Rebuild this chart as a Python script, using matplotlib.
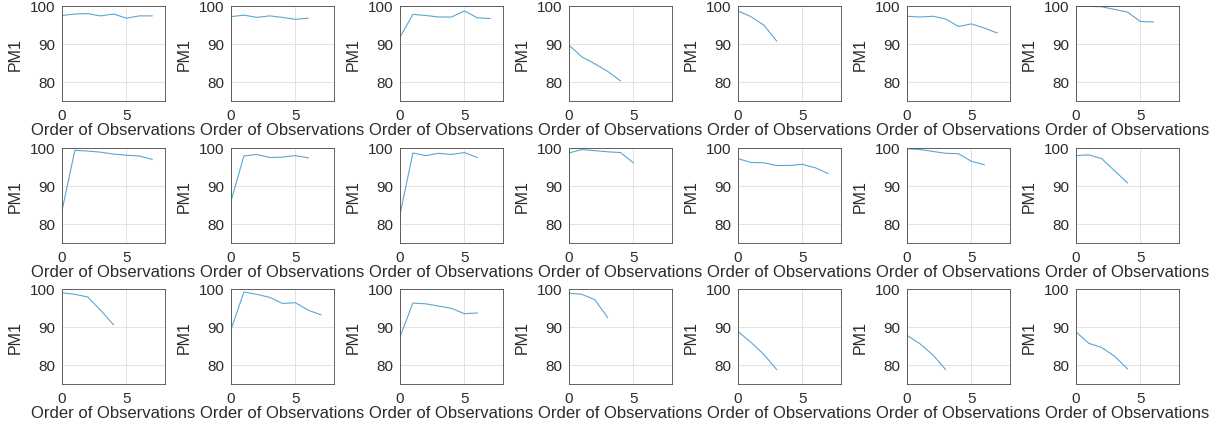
import matplotlib
matplotlib.use("Agg")
import matplotlib.pyplot as plt

plt.rcParams['font.family'] = ['Liberation Sans', 'DejaVu Sans']

# PM1 values per panel (row by row, left to right)
pm1_01 = [97.5, 97.9, 98.0, 97.4, 97.9, 96.8, 97.4, 97.4]
pm1_02 = [97.2, 97.6, 97.0, 97.4, 97.0, 96.5, 96.8]
pm1_03 = [91.8, 97.8, 97.5, 97.1, 97.1, 98.7, 96.9, 96.7]
pm1_04 = [89.7, 86.6, 84.8, 82.8, 80.3]
pm1_05 = [98.7, 97.2, 95.0, 90.8]
pm1_06 = [97.3, 97.1, 97.3, 96.6, 94.6, 95.3, 94.2, 92.9]
pm1_07 = [100.0, 99.9, 99.8, 99.1, 98.4, 95.9, 95.8]

pm1_08 = [83.5, 99.4, 99.2, 98.9, 98.4, 98.1, 97.9, 97.0]
pm1_09 = [86.0, 97.9, 98.3, 97.5, 97.6, 98.0, 97.4]
pm1_10 = [82.5, 98.7, 98.0, 98.6, 98.3, 98.8, 97.5]
pm1_11 = [98.7, 99.6, 99.3, 99.0, 98.8, 96.1]
pm1_12 = [97.2, 96.2, 96.1, 95.4, 95.4, 95.7, 94.8, 93.3]
pm1_13 = [99.8, 99.6, 99.1, 98.6, 98.5, 96.5, 95.6]
pm1_14 = [98.0, 98.2, 97.2, 94.0, 90.8]

pm1_15 = [99.0, 98.6, 97.9, 94.4, 90.6]
pm1_16 = [89.3, 99.2, 98.6, 97.8, 96.2, 96.4, 94.4, 93.2]
pm1_17 = [87.4, 96.3, 96.1, 95.5, 94.9, 93.5, 93.7]
pm1_18 = [98.9, 98.6, 97.2, 92.5]
pm1_19 = [88.8, 86.0, 82.8, 78.8]
pm1_20 = [87.8, 85.6, 82.7, 78.8]
pm1_21 = [88.7, 85.7, 84.6, 82.3, 79.0]

panels = [pm1_01, pm1_02, pm1_03, pm1_04, pm1_05, pm1_06, pm1_07,
          pm1_08, pm1_09, pm1_10, pm1_11, pm1_12, pm1_13, pm1_14,
          pm1_15, pm1_16, pm1_17, pm1_18, pm1_19, pm1_20, pm1_21]

x_label = "Order of Observations"
y_label = "PM1"
x_ticks = [0, 5]
y_ticks = [80, 90, 100]

W, H = 1231, 427
fig = plt.figure(figsize=(W / 100, H / 100), dpi=100)

# pixel layout of the 3x7 grid
left0, pitch_x, ax_w = 62, 169, 103
bottoms = [102, 244, 385]
ax_h = 95

for i, vals in enumerate(panels):
    r, c = divmod(i, 7)
    ax = fig.add_axes([(left0 + c * pitch_x) / W, 1 - bottoms[r] / H,
                       ax_w / W, ax_h / H])
    ax.plot(range(len(vals)), vals, color='#5aa6d4', lw=0.8)
    ax.set_xlim(0, 8)
    ax.set_ylim(75, 100)
    ax.set_xticks(x_ticks)
    ax.set_yticks(y_ticks)
    ax.grid(True, color='#e2e2e2', lw=0.7)
    ax.set_axisbelow(True)
    ax.tick_params(length=0, labelsize=11, colors='#2b2b2b', pad=5)
    for s in ax.spines.values():
        s.set_color('#4a4a4a')
        s.set_linewidth(0.6)
    ax.set_xlabel(x_label, fontsize=12, color='#2b2b2b', labelpad=0)
    ax.set_ylabel(y_label, fontsize=11.5, color='#2b2b2b', labelpad=5)

fig.savefig("out.png", dpi=100)
